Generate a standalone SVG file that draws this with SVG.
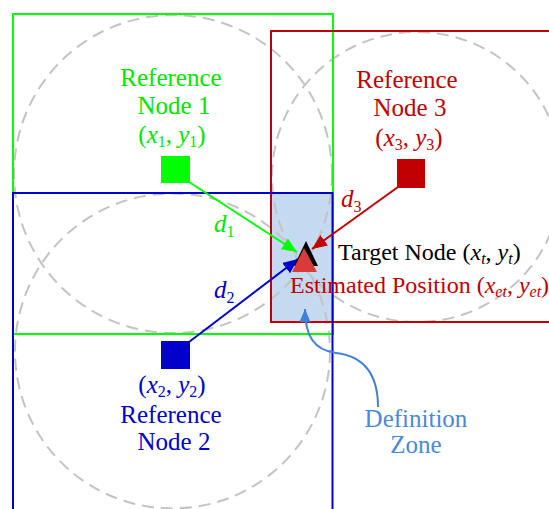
<svg xmlns="http://www.w3.org/2000/svg" width="549" height="509" viewBox="0 0 549 509" font-family="'Liberation Serif', 'Times New Roman', 'DejaVu Serif', serif">
<style>
text{font-family:"Liberation Serif","Times New Roman","DejaVu Serif",serif;font-size:25px}
.circ{fill:none;stroke:#c3c3c3;stroke-width:2;stroke-dasharray:12 7}
.rect{fill:none;stroke-width:2}
.g{fill:#00e600}.b{fill:#0000cc}.r{fill:#c00000}.k{fill:#000}.z{fill:#4a88d8}
.i{font-style:italic}
.sub{font-size:16px}
.conn{fill:none;stroke-width:2}
</style>
<defs>
<marker id="ahG" markerUnits="userSpaceOnUse" markerWidth="16" markerHeight="14" refX="15" refY="6.5" orient="auto"><path d="M0,0 L15,6.5 L0,13 z" fill="#00ff00"/></marker>
<marker id="ahB" markerUnits="userSpaceOnUse" markerWidth="16" markerHeight="14" refX="15" refY="6.5" orient="auto"><path d="M0,0 L15,6.5 L0,13 z" fill="#0000cc"/></marker>
<marker id="ahR" markerUnits="userSpaceOnUse" markerWidth="16" markerHeight="14" refX="15" refY="6.5" orient="auto"><path d="M0,0 L15,6.5 L0,13 z" fill="#c00000"/></marker>
<marker id="ahZ" markerUnits="userSpaceOnUse" markerWidth="14" markerHeight="12" refX="13" refY="5.5" orient="auto"><path d="M0,0 L13,5.5 L0,11 z" fill="#3f80d8"/></marker>
</defs>
<rect width="549" height="509" fill="#fff"/>
<g id="definition-zone-area">
<rect x="271" y="193" width="61.5" height="129" fill="#c5d9f1"/>
</g>
<g id="range-circles">
<circle class="circ" cx="173" cy="174" r="159"/>
<circle class="circ" cx="417" cy="177" r="145"/>
<circle class="circ" cx="172.5" cy="351" r="157.5"/>
</g>
<g id="ranges">
<rect class="rect" x="13" y="14" width="320" height="320" stroke="#00ff00"/>
<rect class="rect" x="271" y="31" width="292" height="291" stroke="#c00000"/>
<rect class="rect" x="13" y="193" width="319.5" height="330" stroke="#0000cc"/>
</g>
<g id="connectors">
<line class="conn" x1="189" y1="182" x2="297" y2="252" stroke="#00ff00" marker-end="url(#ahG)"/>
<line class="conn" x1="189" y1="342" x2="298" y2="259" stroke="#0000cc" marker-end="url(#ahB)"/>
<line class="conn" x1="398" y1="187" x2="312" y2="249" stroke="#c00000" marker-end="url(#ahR)"/>
<path class="conn" d="M378,407 C378,372 362,356 336,353 C314,350 305,336 305,309" stroke="#3f80d8" marker-end="url(#ahZ)"/>
<text x="214" y="232" class="g"><tspan class="i">d</tspan><tspan class="sub" dy="5">1</tspan></text>
<text x="214" y="298" class="b"><tspan class="i">d</tspan><tspan class="sub" dy="5">2</tspan></text>
<text x="341" y="207" class="r"><tspan class="i">d</tspan><tspan class="sub" dy="5">3</tspan></text>
</g>
<g id="ref-node-1">
<rect x="161" y="156" width="29" height="27" fill="#00ff00"/>
<text x="171" y="86" text-anchor="middle" class="g">Reference</text>
<text x="174" y="114" text-anchor="middle" class="g">Node 1</text>
<text x="172" y="143" text-anchor="middle" class="g">(<tspan class="i">x</tspan><tspan class="sub" dy="4">1</tspan><tspan dy="-4">, </tspan><tspan class="i">y</tspan><tspan class="sub" dy="4">1</tspan><tspan dy="-4">)</tspan></text>
</g>
<g id="ref-node-3">
<rect x="397" y="159" width="28" height="29" fill="#c00000"/>
<text x="407" y="88" text-anchor="middle" class="r">Reference</text>
<text x="410" y="116" text-anchor="middle" class="r">Node 3</text>
<text x="409" y="146" text-anchor="middle" class="r">(<tspan class="i">x</tspan><tspan class="sub" dy="4">3</tspan><tspan dy="-4">, </tspan><tspan class="i">y</tspan><tspan class="sub" dy="4">3</tspan><tspan dy="-4">)</tspan></text>
</g>
<g id="ref-node-2">
<rect x="161" y="341" width="29" height="28" fill="#0000cc"/>
<text x="172" y="393" text-anchor="middle" class="b">(<tspan class="i">x</tspan><tspan class="sub" dy="4">2</tspan><tspan dy="-4">, </tspan><tspan class="i">y</tspan><tspan class="sub" dy="4">2</tspan><tspan dy="-4">)</tspan></text>
<text x="171" y="423" text-anchor="middle" class="b">Reference</text>
<text x="174" y="450" text-anchor="middle" class="b">Node 2</text>
</g>
<g id="target-node">
<polygon points="306,241 294,266 318,266" fill="#000"/>
<polygon points="304,248 292,272 317,272" fill="#d93b3b"/>
<text x="338" y="260" class="k" style="font-size:24px">Target Node (<tspan class="i">x</tspan><tspan class="i sub" dy="4">t</tspan><tspan dy="-4">, </tspan><tspan class="i">y</tspan><tspan class="i sub" dy="4">t</tspan><tspan dy="-4">)</tspan></text>
<text x="290" y="293" class="r" style="font-size:24px">Estimated Position (<tspan class="i">x</tspan><tspan class="i sub" dy="4">et</tspan><tspan dy="-4">, </tspan><tspan class="i">y</tspan><tspan class="i sub" dy="4">et</tspan><tspan dy="-4">)</tspan></text>
</g>
<g id="definition-zone-label">
<text x="416" y="427" text-anchor="middle" class="z">Definition</text>
<text x="416" y="453" text-anchor="middle" class="z">Zone</text>
</g>
</svg>
